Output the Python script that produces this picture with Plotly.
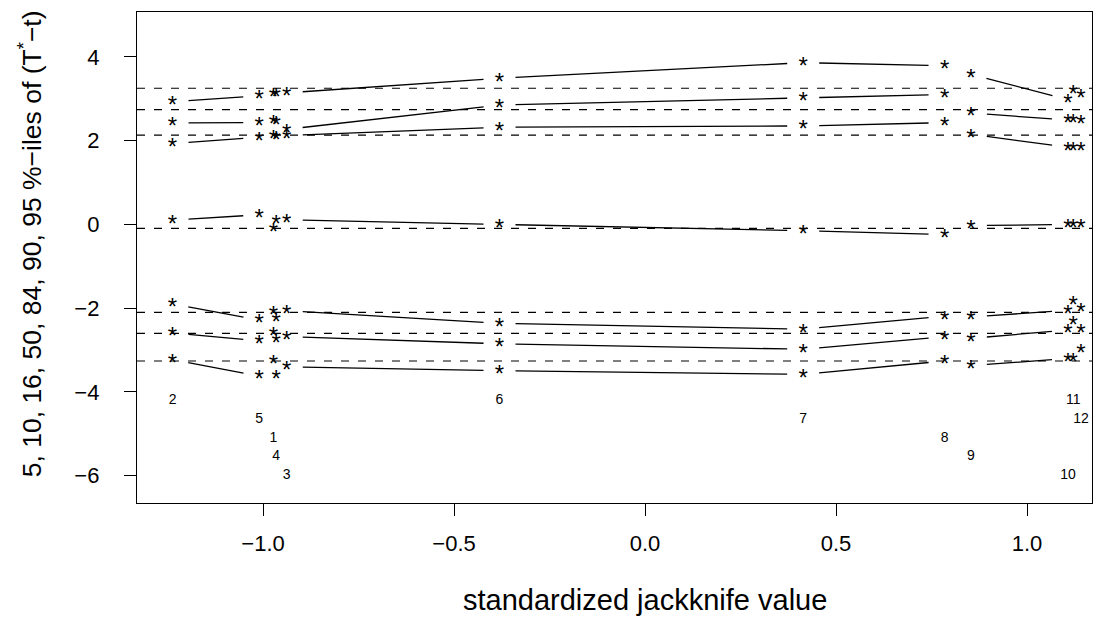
import numpy as np
import plotly.graph_objects as go

# ---------------- data ----------------
obs_labels = ["1", "2", "3", "4", "5", "6", "7", "8", "9", "10", "11", "12"]
jack_x = [-0.973, -1.237, -0.938, -0.966, -1.010, -0.381, 0.414, 0.784, 0.853, 1.107, 1.121, 1.141]

# percentiles of (T*-t) with each observation deleted
p05 = [-3.24, -3.23, -3.40, -3.60, -3.62, -3.49, -3.58, -3.26, -3.37, -3.20, -3.20, -3.00]
p10 = [-2.58, -2.59, -2.68, -2.74, -2.78, -2.85, -2.98, -2.68, -2.72, -2.52, -2.32, -2.52]
p16 = [-2.07, -1.90, -2.06, -2.24, -2.28, -2.36, -2.50, -2.19, -2.21, -2.05, -1.85, -2.00]
p50 = [-0.09, 0.10, 0.11, 0.08, 0.23, 0.00, -0.15, -0.24, -0.03, 0.00, 0.00, 0.00]
p84 = [2.11, 1.93, 2.12, 2.10, 2.08, 2.32, 2.35, 2.43, 2.15, 1.84, 1.84, 1.84]
p90 = [2.47, 2.42, 2.27, 2.45, 2.43, 2.85, 3.02, 3.10, 2.66, 2.49, 2.50, 2.48]
p95 = [3.12, 2.93, 3.14, 3.12, 3.07, 3.49, 3.86, 3.79, 3.58, 2.98, 3.19, 3.09]

# percentiles of the full bootstrap distribution
full_ptiles = [-3.26, -2.60, -2.10, -0.095, 2.13, 2.74, 3.25]

# vertical positions of the observation labels
label_y = [-5.10, -4.21, -6.00, -5.55, -4.66, -4.21, -4.66, -5.10, -5.55, -6.00, -4.21, -4.66]

x_ticks = [-1.0, -0.5, 0.0, 0.5, 1.0]
x_ticktext = ["\u22121.0", "\u22120.5", "0.0", "0.5", "1.0"]
y_ticks = [-6, -4, -2, 0, 2, 4]
y_ticktext = ["\u22126", "\u22124", "\u22122", "0", "2", "4"]

x_title = "standardized jackknife value"
y_title = "5, 10, 16, 50, 84, 90, 95 %\u2212iles of (T<sup>*</sup>\u2212t)"

# ---------------- layout geometry ----------------
# (page body keeps an 8px margin, figure sized to fit the window)
WIDTH, HEIGHT = 1097, 623
ML, MR, MT, MB = 129, 13, 4, 128
XR = [-1.330, 1.170]
YR = [-6.65, 5.07]
PW = WIDTH - ML - MR
PH = HEIGHT - MT - MB
sx = PW / (XR[1] - XR[0])
sy = PH / (YR[1] - YR[0])
GAP = 16          # px gap around points (type = "b")
STAR_SIZE = 24
STAR_SHIFT = 0.225 * STAR_SIZE  # px: centre the asterisk glyph on its point
FONT = "Liberation Sans, Arial, Helvetica, sans-serif"

rows = [p05, p10, p16, p50, p84, p90, p95]
xs = np.asarray(jack_x)
order = np.argsort(xs)

seg_x, seg_y = [], []
for row in rows:
    ys = np.asarray(row)[order]
    xo = xs[order]
    for i in range(len(xo) - 1):
        dx, dy = xo[i + 1] - xo[i], ys[i + 1] - ys[i]
        L = np.hypot(dx * sx, dy * sy)
        if L > 2 * GAP:
            f = GAP / L
            seg_x += [xo[i] + f * dx, xo[i + 1] - f * dx, None]
            seg_y += [ys[i] + f * dy, ys[i + 1] - f * dy, None]

fig = go.Figure()

for v in full_ptiles:
    fig.add_shape(type="line", xref="x domain", x0=0, x1=1, yref="y", y0=v, y1=v,
                  line=dict(color="black", width=1.2, dash="8px,9px"), layer="below")

fig.add_trace(go.Scatter(x=seg_x, y=seg_y, mode="lines",
                         line=dict(color="black", width=1.3), hoverinfo="skip",
                         showlegend=False))

star_x = list(jack_x) * len(rows)
star_y = [v - STAR_SHIFT / sy for row in rows for v in row]
fig.add_trace(go.Scatter(x=star_x, y=star_y, mode="text", text=["*"] * len(star_x),
                         textposition="middle center",
                         textfont=dict(family=FONT, size=STAR_SIZE, color="black"),
                         showlegend=False, hoverinfo="skip"))

fig.add_trace(go.Scatter(x=jack_x, y=label_y, mode="text", text=obs_labels,
                         textposition="middle center",
                         textfont=dict(family=FONT, size=14, color="black"),
                         showlegend=False, hoverinfo="skip"))

# axis titles (placed like R's mtext lines)
fig.add_annotation(text=x_title, xref="paper", yref="paper", x=0.532, y=-0.198,
                   xanchor="center", yanchor="middle", showarrow=False,
                   font=dict(family=FONT, size=29, color="black"))
fig.add_annotation(text=y_title, xref="paper", yref="paper", x=-0.112, y=0.527,
                   xanchor="center", yanchor="middle", showarrow=False, textangle=-90,
                   font=dict(family=FONT, size=26.5, color="black"))

fig.update_layout(
    width=WIDTH, height=HEIGHT,
    margin=dict(l=ML, r=MR, t=MT, b=MB, autoexpand=False),
    paper_bgcolor="white", plot_bgcolor="white",
    font=dict(family=FONT, size=22, color="black"),
    xaxis=dict(range=XR, tickvals=x_ticks, ticktext=x_ticktext,
               ticks="outside", ticklen=12, tickwidth=1, tickcolor="black",
               ticklabelstandoff=8, automargin=False,
               showgrid=False, zeroline=False, showline=True, mirror=True,
               linecolor="black", linewidth=1.3),
    yaxis=dict(range=YR, tickvals=y_ticks, ticktext=y_ticktext,
               ticks="outside", ticklen=12, tickwidth=1, tickcolor="black",
               ticklabelstandoff=20, automargin=False,
               showgrid=False, zeroline=False, showline=True, mirror=True,
               linecolor="black", linewidth=1.3),
)

fig.write_html("out.html")
